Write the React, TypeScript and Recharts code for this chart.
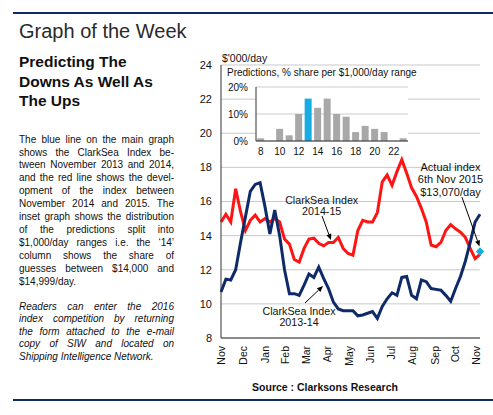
import React from 'react';
import {
    LineChart,
    Line,
    XAxis,
    YAxis,
    CartesianGrid,
    ReferenceLine,
    ReferenceDot,
    BarChart,
    Bar,
    Cell
} from 'recharts';

const FONT = '"Liberation Sans", Arial, Helvetica, sans-serif';
const NAVY = '#0f2a68';
const RED = '#ff1414';
const CYAN = '#17ace2';

// weekly ClarkSea index, $'000/day, Nov-Nov
const index2013_14 = [
    10.7, 11.45, 11.4, 12.0, 13.6, 15.1, 16.6, 17.0, 17.1, 15.7,
    14.1, 15.5, 14.0, 12.0, 10.6, 10.6, 10.5, 11.1, 11.75, 11.55,
    12.15, 11.5, 10.9, 10.1, 9.7, 9.6, 9.6, 9.6, 9.3, 9.35,
    9.45, 9.55, 9.15, 9.85, 10.3, 10.65, 10.5, 11.55, 11.6, 10.5,
    10.3, 11.4, 11.3, 10.9, 10.85, 10.8, 10.5, 10.15, 10.9, 11.6,
    12.5, 13.6, 14.8, 15.25
];
const index2014_15 = [
    14.8, 15.25, 14.8, 16.75, 15.4, 14.3, 14.9, 15.2, 14.8, 15.0,
    14.8, 15.0, 14.8, 13.8, 13.5, 12.6, 12.45, 13.25, 13.8, 13.85,
    13.55, 13.4, 13.6, 13.6, 13.9, 13.25, 12.95, 12.85, 14.3, 14.9,
    14.8, 14.8, 15.35, 17.15, 17.55, 16.95, 17.75, 18.45, 17.65, 16.8,
    16.3, 15.6, 14.8, 13.45, 13.35, 13.6, 14.3, 14.65, 14.4, 14.2,
    13.9, 13.25, 12.65, 12.9
];
const actualIndex = 13.07;

const monthLabels = ['Nov', 'Dec', 'Jan', 'Feb', 'Mar', 'Apr', 'May', 'Jun', 'Jul', 'Aug', 'Sep', 'Oct', 'Nov'];
const monthTicks = [0.15, 4.55, 9.15, 13.2, 17.4, 21.8, 26.2, 30.6, 34.9, 39.2, 43.8, 47.85, 52.3];
const yTicks = [8, 10, 12, 14, 16, 18, 20, 22, 24];

// inset: predictions share per $1,000/day range
const ranges = [8, 9, 10, 11, 12, 13, 14, 15, 16, 17, 18, 19, 20, 21, 22, 23];
const shares = [1, 0, 4.5, 2.1, 10, 15.7, 12.3, 15.7, 10, 9, 3.3, 5.6, 4.5, 3.3, 0, 1];
const highlightRange = 13;

// arrows [from, to] in (week, $'000/day)
const arrows = [
    [{ x: 20.67, y: 15.15 }, { x: 22.5, y: 13.74 }],
    [{ x: 17.19, y: 10.05 }, { x: 20.87, y: 11.05 }],
    [{ x: 49.3, y: 16.26 }, { x: 52.9, y: 13.36 }]
];

const weeks = index2013_14.map((v, i) => ({ week: i, y1314: v, y1415: index2014_15[i] }));
const insetData = ranges.map((r, i) => ({ range: r, share: shares[i] }));

const bodyLines = [
    'The blue line on the main graph',
    'shows the ClarkSea Index be-',
    'tween November 2013 and 2014,',
    'and the red line shows the devel-',
    'opment of the index between',
    'November 2014 and 2015. The',
    'inset graph shows the distribution',
    'of the predictions split into',
    '$1,000/day ranges i.e. the \u201814\u2019',
    'column shows the share of',
    'guesses between $14,000 and',
    '$14,999/day.'
];
const readerLines = [
    'Readers can enter the 2016',
    'index competition by returning',
    'the form attached to the e-mail',
    'copy of SIW and located on',
    'Shipping Intelligence Network.'
];

const Arrow = (props: any) => {
    const { x1, y1, x2, y2 } = props;
    const a = Math.atan2(y2 - y1, x2 - x1);
    const len = 6;
    const half = 2.6;
    const bx = x2 - len * Math.cos(a);
    const by = y2 - len * Math.sin(a);
    const px = -Math.sin(a) * half;
    const py = Math.cos(a) * half;
    return (
        <g>
            <line x1={x1} y1={y1} x2={bx} y2={by} stroke="#000" strokeWidth={1} />
            <polygon points={`${x2},${y2} ${bx + px},${by + py} ${bx - px},${by - py}`} fill="#000" />
        </g>
    );
};

const Diamond = (props: any) => {
    const { cx, cy } = props;
    const r = 4.2;
    return <polygon points={`${cx},${cy - r} ${cx + r},${cy} ${cx},${cy + r} ${cx - r},${cy}`} fill={CYAN} />;
};

const MonthTick = (props: any) => {
    const { x, y, payload } = props;
    const label = monthLabels[monthTicks.indexOf(payload.value)];
    return (
        <text
            x={x}
            y={y}
            transform={`rotate(-90 ${x} ${y})`}
            textAnchor="end"
            dy="0.35em"
            fontSize={10.5}
            fontFamily={FONT}
            fill="#111"
        >
            {label}
        </text>
    );
};

const abs = (left: number, top: number, extra: React.CSSProperties = {}): React.CSSProperties => ({
    position: 'absolute',
    left,
    top,
    ...extra
});

function Note({ lines, cx, top, lh, size }: { lines: string[]; cx: number; top: number; lh: number; size: number }) {
    return (
        <div style={abs(cx - 60, top, { width: 120, textAlign: 'center', fontSize: size, lineHeight: `${lh}px`, color: '#111' })}>
            {lines.map((l) => (
                <div key={l}>{l}</div>
            ))}
        </div>
    );
}

export default function App() {
    return (
        <div style={abs(0, 0, { width: 493, height: 415, background: '#fff', fontFamily: FONT, overflow: 'hidden' })}>
            <div style={abs(13, 12, { width: 480, height: 1.6, background: NAVY })} />
            <div style={abs(19, 19.4, { fontSize: 20, lineHeight: '24px', color: '#2a2a2a', whiteSpace: 'nowrap' })}>
                Graph of the Week
            </div>
            <div style={abs(19, 52.3, { fontSize: 15.5, lineHeight: '19.3px', fontWeight: 700, color: '#111', whiteSpace: 'nowrap' })}>
                <div>Predicting The</div>
                <div>Downs As Well As</div>
                <div>The Ups</div>
            </div>
            <div style={abs(19, 133.6, { width: 155, fontSize: 10, lineHeight: '12.9px', color: '#111' })}>
                {bodyLines.map((l, i) => (
                    <div
                        key={i}
                        style={{
                            textAlign: 'justify',
                            textAlignLast: i === bodyLines.length - 1 ? 'left' : 'justify',
                            whiteSpace: 'nowrap'
                        }}
                    >
                        {l}
                    </div>
                ))}
            </div>
            <div style={abs(19, 300.6, { width: 155, fontSize: 10, lineHeight: '12.6px', color: '#111', fontStyle: 'italic' })}>
                {readerLines.map((l, i) => (
                    <div
                        key={i}
                        style={{
                            textAlign: 'justify',
                            textAlignLast: i === readerLines.length - 1 ? 'left' : 'justify',
                            whiteSpace: 'nowrap'
                        }}
                    >
                        {l}
                    </div>
                ))}
            </div>

            <div style={abs(175, 50)}>
                <LineChart width={318} height={318} data={weeks} margin={{ top: 15, right: 13, bottom: 0, left: 0 }}>
                    <CartesianGrid vertical={false} stroke="#c9c9c9" />
                    <XAxis
                        type="number"
                        dataKey="week"
                        domain={[0, 53]}
                        ticks={monthTicks}
                        interval={0}
                        tickLine={false}
                        axisLine={{ stroke: '#333' }}
                        height={30}
                        tick={<MonthTick />}
                    />
                    <YAxis
                        domain={[8, 24]}
                        ticks={yTicks}
                        interval={0}
                        width={46}
                        tickLine={false}
                        tickMargin={3}
                        axisLine={{ stroke: '#333' }}
                        tick={{ fill: '#111', fontSize: 11, fontFamily: FONT }}
                    />
                    <Line
                        dataKey="y1415"
                        stroke={RED}
                        strokeWidth={3}
                        dot={false}
                        type="linear"
                        isAnimationActive={false}
                    />
                    <Line
                        dataKey="y1314"
                        stroke={NAVY}
                        strokeWidth={3}
                        dot={false}
                        type="linear"
                        isAnimationActive={false}
                    />
                    {arrows.map((seg, i) => (
                        <ReferenceLine key={i} segment={seg} shape={Arrow} ifOverflow="visible" />
                    ))}
                    <ReferenceDot x={53} y={actualIndex} r={4} shape={Diamond} ifOverflow="visible" />
                </LineChart>
            </div>

            <div style={abs(222, 52.3, { fontSize: 10.5, lineHeight: '12px', color: '#111' })}>$'000/day</div>

            <div style={abs(222, 80)}>
                <BarChart width={186} height={77} data={insetData} margin={{ top: 7, right: 0, bottom: 0, left: 0 }} barCategoryGap="12%">
                    <CartesianGrid vertical={false} stroke="#cccccc" fill="#fff" />
                    <XAxis
                        dataKey="range"
                        interval={1}
                        height={16}
                        tickLine={false}
                        tickMargin={1}
                        axisLine={{ stroke: '#333' }}
                        tick={{ fill: '#111', fontSize: 10, fontFamily: FONT }}
                    />
                    <YAxis
                        domain={[0, 20]}
                        ticks={[0, 10, 20]}
                        width={34}
                        tickLine={false}
                        axisLine={{ stroke: '#333' }}
                        tickFormatter={(v: number) => `${v}%`}
                        tick={{ fill: '#111', fontSize: 10, fontFamily: FONT }}
                    />
                    <Bar dataKey="share" isAnimationActive={false}>
                        {insetData.map((d) => (
                            <Cell key={d.range} fill={d.range === highlightRange ? CYAN : '#a8a8a8'} />
                        ))}
                    </Bar>
                </BarChart>
            </div>
            <div style={abs(227, 67, { fontSize: 10, lineHeight: '12px', color: '#111', whiteSpace: 'nowrap' })}>
                Predictions, % share per $1,000/day range
            </div>

            <Note lines={['ClarkSea Index', '2014-15']} cx={321.7} top={195} lh={11} size={10.7} />
            <Note lines={['ClarkSea Index', '2013-14']} cx={299} top={306} lh={11} size={10.7} />
            <Note lines={['Actual index', '6th Nov 2015', '$13,070/day']} cx={450.5} top={160.5} lh={12.5} size={11} />

            <div style={abs(175, 380.7, { width: 300, textAlign: 'center', fontSize: 10.5, lineHeight: '12px', fontWeight: 700, color: '#111' })}>
                Source : Clarksons Research
            </div>
            <div style={abs(13, 399, { width: 480, height: 1.7, background: NAVY })} />
        </div>
    );
}
